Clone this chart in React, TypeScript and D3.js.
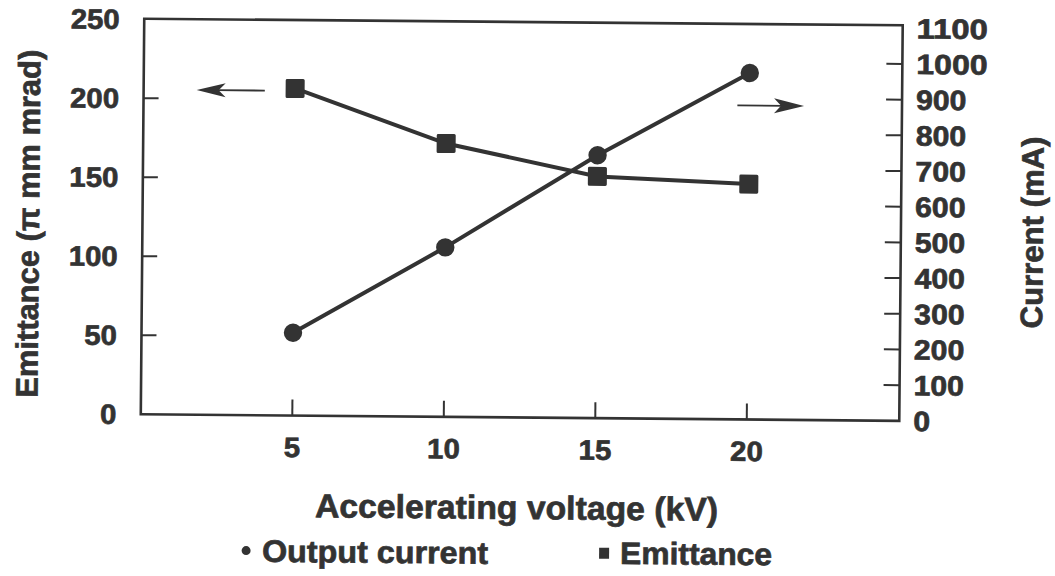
import React from "react";
import * as d3 from "d3";

// Accelerating voltage (kV) at which both quantities were measured
const voltages = [5, 10, 15, 20];
// Beam emittance (π mm mrad), left axis
const emittance = [207, 173, 153, 149];
// Output current (mA), right axis
const outputCurrent = [232, 475, 737, 971];

const xTicks = [5, 10, 15, 20];
const leftTicks = [0, 50, 100, 150, 200, 250];
const rightTicks = [0, 100, 200, 300, 400, 500, 600, 700, 800, 900, 1000, 1100];

const W = 1055;
const H = 576;
const INK = "#333";
const FONT = "'Liberation Sans', Arial, Helvetica, sans-serif";

const frame = { left: 142.5, right: 901, top: 22, bottom: 417.5 };

// heavy bold look for all lettering
const textStyle = {
  fontFamily: FONT,
  fontWeight: 700,
  fill: INK,
  stroke: INK,
  strokeWidth: 0.7,
} as const;

export default function App() {
  const x = d3.scaleLinear().domain([0, 25]).range([frame.left, 900]);
  const yL = d3.scaleLinear().domain([0, 250]).range([frame.bottom, 22.5]);
  const yR = d3.scaleLinear().domain([0, 1100]).range([frame.bottom, 25]);

  const emitPts: [number, number][] = voltages.map((v, i) => [x(v), yL(emittance[i])]);
  const curPts: [number, number][] = voltages.map((v, i) => [x(v), yR(outputCurrent[i])]);
  const line = d3.line();

  const tickFont = { ...textStyle, fontSize: 28 } as const;
  const digitW = 16.3;

  // direction arrows pointing at each series' axis
  const leftArrow = { from: x(4), to: x(1.75), y: yL(205.5) };
  const rightArrow = { from: x(19.6), to: x(21.8), y: yR(880) };

  return (
    <svg
      width={W}
      height={H}
      style={{ position: "absolute", left: 0, top: 0, background: "#fff" }}
    >
      <rect x={0} y={0} width={W} height={H} fill="#fff" />
      <g transform="rotate(0.5, 520, 220)">
        {/* plot frame */}
        <rect
          x={frame.left}
          y={frame.top}
          width={frame.right - frame.left}
          height={frame.bottom - frame.top}
          fill="none"
          stroke={INK}
          strokeWidth={2.6}
        />

        {/* left axis ticks and labels */}
        {leftTicks.map((t) => (
          <g key={"l" + t}>
            {t > 0 && t < 250 && (
              <line x1={frame.left} x2={frame.left + 15} y1={yL(t)} y2={yL(t)} stroke={INK} strokeWidth={2} />
            )}
            <text
              x={118}
              y={yL(t) + 10}
              textAnchor="end"
              textLength={String(t).length * digitW}
              lengthAdjust="spacingAndGlyphs"
              {...tickFont}
            >
              {t}
            </text>
          </g>
        ))}

        {/* right axis ticks and labels */}
        {rightTicks.map((t) => (
          <g key={"r" + t}>
            {t > 0 && t < 1100 && (
              <line x1={frame.right - 16} x2={frame.right} y1={yR(t)} y2={yR(t)} stroke={INK} strokeWidth={2} />
            )}
            <text
              x={915}
              y={yR(t) + 10}
              textAnchor="start"
              textLength={String(t).length * (t >= 1000 ? 17.8 : 16.8)}
              lengthAdjust="spacingAndGlyphs"
              {...tickFont}
            >
              {t}
            </text>
          </g>
        ))}

        {/* bottom axis ticks and labels */}
        {xTicks.map((t) => (
          <g key={"x" + t}>
            <line x1={x(t)} x2={x(t)} y1={frame.bottom} y2={frame.bottom - 16} stroke={INK} strokeWidth={2} />
            <text
              x={x(t)}
              y={459}
              textAnchor="middle"
              textLength={String(t).length * digitW}
              lengthAdjust="spacingAndGlyphs"
              {...tickFont}
            >
              {t}
            </text>
          </g>
        ))}

        {/* series lines */}
        <path d={line(emitPts) ?? ""} fill="none" stroke={INK} strokeWidth={4} />
        <path d={line(curPts) ?? ""} fill="none" stroke={INK} strokeWidth={4} />

        {/* markers */}
        {emitPts.map(([px, py], i) => (
          <rect key={"s" + i} x={px - 9.5} y={py - 9.5} width={19} height={19} fill={INK} rx={1.5} />
        ))}
        {curPts.map(([px, py], i) => (
          <circle key={"c" + i} cx={px} cy={py} r={9.2} fill={INK} />
        ))}

        {/* arrows */}
        <line x1={leftArrow.from} x2={leftArrow.to + 20} y1={leftArrow.y} y2={leftArrow.y} stroke={INK} strokeWidth={1.8} />
        <path
          d={`M${leftArrow.to},${leftArrow.y} L${leftArrow.to + 29},${leftArrow.y - 7} L${leftArrow.to + 22},${leftArrow.y} L${leftArrow.to + 29},${leftArrow.y + 7} Z`}
          fill={INK}
        />
        <line x1={rightArrow.from} x2={rightArrow.to - 20} y1={rightArrow.y} y2={rightArrow.y} stroke={INK} strokeWidth={1.8} />
        <path
          d={`M${rightArrow.to},${rightArrow.y} L${rightArrow.to - 30},${rightArrow.y - 7.5} L${rightArrow.to - 23},${rightArrow.y} L${rightArrow.to - 30},${rightArrow.y + 7.5} Z`}
          fill={INK}
        />

        {/* axis titles */}
        <text
          transform={`translate(39, 228) rotate(-90)`}
          textAnchor="middle"
          textLength={348}
          lengthAdjust="spacingAndGlyphs"
          fontSize={31}
          {...textStyle}
        >
          Emittance (π mm mrad)
        </text>
        <text
          transform={`translate(1043, 228) rotate(-90)`}
          textAnchor="middle"
          textLength={192}
          lengthAdjust="spacingAndGlyphs"
          fontSize={31}
          {...textStyle}
        >
          Current (mA)
        </text>
        <text
          x={519}
          y={519}
          textAnchor="middle"
          textLength={403}
          lengthAdjust="spacingAndGlyphs"
          fontSize={33}
          {...textStyle}
        >
          Accelerating voltage (kV)
        </text>

        {/* legend */}
        <circle cx={249} cy={553} r={4.5} fill={INK} />
        <text
          x={265}
          y={564}
          textLength={226}
          lengthAdjust="spacingAndGlyphs"
          fontSize={31}
          {...textStyle}
        >
          Output current
        </text>
        <rect x={602} y={547} width={10} height={11} fill={INK} />
        <text
          x={623}
          y={563}
          textLength={152}
          lengthAdjust="spacingAndGlyphs"
          fontSize={31}
          {...textStyle}
        >
          Emittance
        </text>
      </g>
    </svg>
  );
}
